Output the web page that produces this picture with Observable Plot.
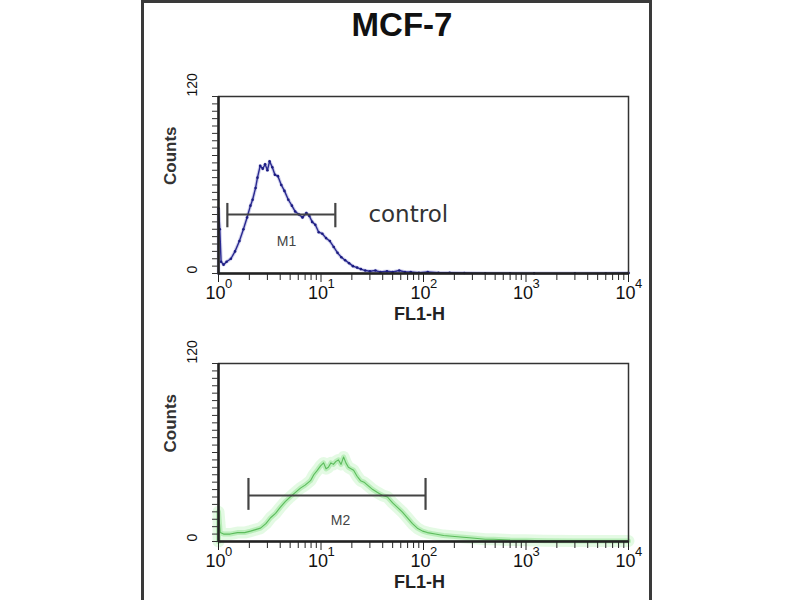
<!DOCTYPE html>
<html><head><meta charset="utf-8">
<script src="https://cdn.jsdelivr.net/npm/d3@7"></script>
<script src="https://cdn.jsdelivr.net/npm/@observablehq/plot@0.6"></script>
<style>
body{margin:0;background:#fff;}
#wrap{position:relative;width:800px;height:600px;overflow:hidden;background:#fff;font-family:"Liberation Sans",Arial,sans-serif;}
#panel{position:absolute;left:141px;top:0;width:511px;height:640px;border:3px solid #3a3a3a;box-sizing:border-box;}
#title{position:absolute;left:0;width:804px;top:6px;text-align:center;font:bold 33px "Liberation Sans",Arial,sans-serif;color:#111;}
.p{position:absolute;}
</style></head>
<body><div id="wrap"><div id="panel"></div><div id="title">MCF-7</div></div>
<script>
// tick values
const majorTicks = [1, 10, 100, 1000, 10000];
const majorExp = ["0", "1", "2", "3", "4"];
const minorTicks = [2,3,4,5,6,7,8,9,20,30,40,50,60,70,80,90,200,300,400,500,600,700,800,900,2000,3000,4000,5000,6000,7000,8000,9000];
const countTicks = [0,5,10,15,20,25,30,35,40,45,50,55,60,65,70,75,80,85,90,95,100,105,110,115,120];
const countLabels = [0, 120];

// control histogram (FL1-H, counts)
const ctrlX = [1.0,1.0,1.03,1.06,1.12,1.2,1.32,1.45,1.6,1.75,1.9,2.05,2.15,2.3,2.4,2.55,2.7,2.85,3.0,3.15,3.35,3.55,3.8,4.1,4.4,4.8,5.2,5.6,6.1,6.6,7.2,7.7,8.2,8.8,9.5,10.3,11.2,12.2,13.3,14.5,15.8,17.2,18.8,20.5,22.5,24.5,27,30,34,38,44,50,58,66,75,90,110,140,180,250,400,700,1200,3000,6000,10000];
const ctrlY = [0,44,30,8,6,8,10,15,22,30,38,46,50,58,65,73,71,74,70,76,72,67,66,60,56,50,46,42,40,38,41,39,35,33,28,27,24,22,18,14,11,9,7,5,4,3,2,1.5,2,1,1.5,1,2,1,1,0.5,1,0.5,0.5,0.3,0.2,0.2,0.1,0.1,0.2,0.3];

// sample histogram
const smpX = [1.0,1.0,1.04,1.12,1.3,1.53,1.8,2.05,2.3,2.57,2.9,3.22,3.6,4.0,4.5,5.0,5.6,6.3,7.0,7.9,8.5,9.2,9.9,10.6,11.2,11.8,12.5,13.2,14.0,14.8,15.7,16.6,17.5,18.5,19.6,20.8,22.5,24.3,26.3,28.4,32,35.6,40,44.5,50,55.7,62,69.7,78,87,98,109,130,157,190,229,280,336,400,480,700,1000,1500,3000,6000,10000];
const smpY = [0,20,6,5,5,6,6,7,8,9,12,16,19,23,27,30,33,36,38,41,45,48,51,53,49,50,53,52,54,55,52,57,53,50,49,48,44,41,40,38,35,33,31,30,26,23,20,16,12,9,7,6,5,4,3.5,3,2.5,2,1.5,1.5,1,0.8,0.5,0.4,0.3,0.3];

// gates
const gateName = ["M1", "M2"];
const gateX1 = [1.22, 1.96];
const gateX2 = [13.8, 104.7];
const gateY = [40, 31];
const gateCapLo = [31, 21];
const gateCapHi = [47.5, 42.5];
const gateLabelX = [4.6, 15.5];
const gateLabelY = [22, 14];

const ctrl = ctrlX.map((x, i) => ({x, y: ctrlY[i]}));
const smp = smpX.map((x, i) => ({x, y: smpY[i]}));

function panel(g, lineMarks, extra) {
  const gate = [{x1: gateX1[g], x2: gateX2[g], y: gateY[g], lo: gateCapLo[g], hi: gateCapHi[g]}];
  return Plot.plot({
    width: 520, height: 260,
    marginTop: 26, marginLeft: 78, marginRight: 32, marginBottom: g === 0 ? 57 : 56,
    style: {background: "transparent", fontFamily: "'Liberation Sans', Arial, sans-serif", overflow: "visible", color: "#222"},
    x: {type: "log", domain: [1, 10000], axis: null},
    y: {domain: [0, 120], axis: null},
    marks: [
      ...lineMarks,
      Plot.ruleY(gate, {x1: "x1", x2: "x2", y: "y", stroke: "#444", strokeWidth: 2.2}),
      Plot.ruleX(gate, {x: "x1", y1: "lo", y2: "hi", stroke: "#444", strokeWidth: 2.2}),
      Plot.ruleX(gate, {x: "x2", y1: "lo", y2: "hi", stroke: "#444", strokeWidth: 2.2}),
      Plot.text([gateName[g]], {x: () => gateLabelX[g], y: () => gateLabelY[g], text: d => d, fontSize: 14, fill: "#444"}),
      Plot.frame({stroke: "#333", strokeWidth: 1.5}),
      Plot.ruleY([0], {stroke: "#222", strokeWidth: 2.5}),
      Plot.ruleX([1], {stroke: "#222", strokeWidth: 2.5}),
      Plot.axisX({anchor: "bottom", ticks: majorTicks, tickSize: 9, stroke: "#222", tickFormat: () => "", clip: false}),
      Plot.axisX({anchor: "bottom", ticks: minorTicks, tickSize: 7, stroke: "#222", tickFormat: () => "", clip: false}),
      Plot.axisY({anchor: "left", ticks: countTicks, tickSize: 6, stroke: "#333", tickFormat: () => "", clip: false}),
      Plot.text(majorTicks, {x: d => d, frameAnchor: "bottom", dy: 25, dx: -3, text: () => "10", fontSize: 18, fill: "#111"}),
      Plot.text(majorTicks, {x: d => d, frameAnchor: "bottom", dy: 14, dx: 10, text: (d, i) => majorExp[i], fontSize: 13, fill: "#111"}),
      Plot.text(["FL1-H"], {frameAnchor: "bottom", dy: 46, dx: -4, text: d => d, fontSize: 18, fontWeight: "bold", fill: "#222"}),
      Plot.text(countLabels, {y: d => d, frameAnchor: "left", dx: -26, rotate: -90, text: d => String(d), fontSize: 14, fill: "#111"}),
      Plot.text(["Counts"], {frameAnchor: "left", dx: -48, rotate: -90, text: d => d, fontSize: 17, fontWeight: "bold", fill: "#333"}),
      ...extra
    ]
  });
}

const p1 = panel(0, [
  Plot.line(ctrl, {x: "x", y: "y", stroke: "#9a9ad8", strokeWidth: 3.5, strokeOpacity: 0.45}),
  Plot.line(ctrl, {x: "x", y: "y", stroke: "#2a2a90", strokeWidth: 1.4}),
  Plot.dot(ctrl, {x: "x", y: "y", r: 1.3, fill: "#1c1c80"})
], [
  Plot.text(["control"], {x: () => 71, y: () => 40, text: d => d, fontSize: 23, fontFamily: "'DejaVu Sans', sans-serif", fill: "#333"})
]);
p1.classList.add("p"); p1.style.left = "140px"; p1.style.top = "70px";

const p2 = panel(1, [
  Plot.line(smp, {x: "x", y: "y", stroke: "#c4f4c4", strokeWidth: 12, strokeOpacity: 0.45}),
  Plot.line(smp, {x: "x", y: "y", stroke: "#9ee69e", strokeWidth: 5, strokeOpacity: 0.6}),
  Plot.line(smp, {x: "x", y: "y", stroke: "#5cbc5c", strokeWidth: 1.1})
], []);
p2.classList.add("p"); p2.style.left = "140px"; p2.style.top = "337px";

document.getElementById("wrap").append(p1, p2);
</script></body></html>
